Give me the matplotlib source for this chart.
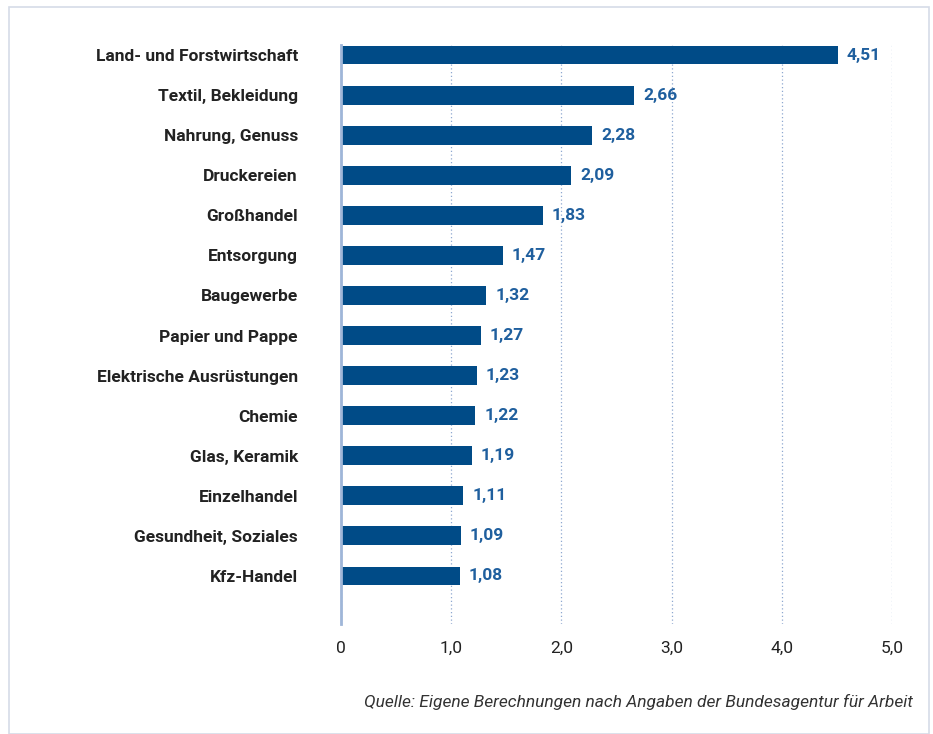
import matplotlib
matplotlib.use("Agg")
import matplotlib.pyplot as plt
from matplotlib.patches import Rectangle
from matplotlib import font_manager

categories = ["Land- und Forstwirtschaft", "Textil, Bekleidung", "Nahrung, Genuss",
              "Druckereien", "Großhandel", "Entsorgung", "Baugewerbe",
              "Papier und Pappe", "Elektrische Ausrüstungen", "Chemie",
              "Glas, Keramik", "Einzelhandel", "Gesundheit, Soziales", "Kfz-Handel"]
values = [4.51, 2.66, 2.28, 2.09, 1.83, 1.47, 1.32, 1.27, 1.23, 1.22, 1.19, 1.11, 1.09, 1.08]
xticks = [0, 1, 2, 3, 4, 5]
xticklabels = ["0", "1,0", "2,0", "3,0", "4,0", "5,0"]
source = "Quelle: Eigene Berechnungen nach Angaben der Bundesagentur für Arbeit"

names = {f.name for f in font_manager.fontManager.ttflist}
fam = ["Liberation Sans Narrow", "DejaVu Sans"] if "Liberation Sans Narrow" in names else ["Roboto", "DejaVu Sans"]
plt.rcParams['font.family'] = fam

bar_color = "#004b87"
val_color = "#1f5f9e"
text_color = "#222222"

fig = plt.figure(figsize=(9.33, 7.34), dpi=100)
W, H = 933, 734
# frame
fig.patches.append(Rectangle((9 / W, 0), (929 - 9) / W, (734 - 7) / H, transform=fig.transFigure,
                             fill=False, edgecolor="#d5dce8", linewidth=1.2))

ax = fig.add_axes([341 / W, 1 - 624 / H, (892 - 341) / W, (624 - 45) / H])
y = list(range(len(categories)))
ax.barh(y, values, height=0.47, color=bar_color, zorder=3)
ax.set_xlim(0, 5)
ax.set_ylim(14.2, -0.25)
for s in ["top", "right", "bottom"]:
    ax.spines[s].set_visible(False)
ax.spines["left"].set_color("#9fb6d8")
ax.spines["left"].set_linewidth(2)
ax.spines["left"].set_zorder(4)
ax.set_xticks(xticks)
ax.set_xticklabels(xticklabels, fontsize=12.5, color=text_color)
ax.tick_params(axis="x", length=0, pad=12)
ax.set_yticks(y)
ax.set_yticklabels(categories, fontsize=12.5, fontweight="bold", color=text_color)
ax.tick_params(axis="y", length=0, pad=31)
ax.grid(axis="x", linestyle=(0, (1, 2)), color="#8fa8d0", linewidth=0.9, zorder=0)
for v, yy in zip(values, y):
    ax.text(v + 0.08, yy, f"{v:.2f}".replace(".", ","), va="center", ha="left",
            fontsize=12.5, fontweight="bold", color=val_color)

fig.text(913 / W, 1 - 702 / H, source, ha="right", va="center", fontsize=12.5,
         style="italic", color="#333333")

fig.savefig("out.png", dpi=100)
